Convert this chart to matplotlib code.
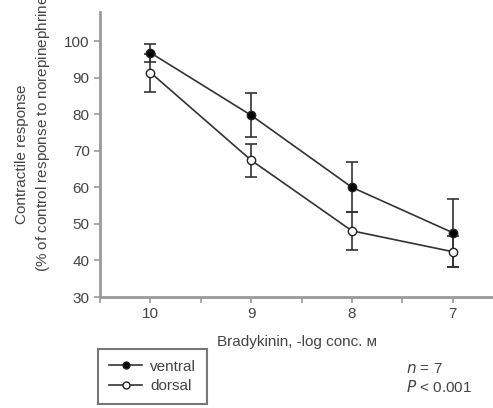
import numpy as np
import matplotlib.pyplot as plt
from matplotlib.ticker import MultipleLocator
from matplotlib.lines import Line2D

plt.rcParams['font.family'] = ['Liberation Sans', 'DejaVu Sans']

# data
conc = [10, 9, 8, 7]
ventral = [96.8, 79.7, 60.0, 47.6]
ventral_err = [2.5, 6.0, 6.8, 9.3]
dorsal = [91.4, 67.4, 48.1, 42.4]
dorsal_err = [5.2, 4.5, 5.2, 4.2]

txt = '#444444'
spine = '#999999'

fig = plt.figure(figsize=(4.93, 4.08), dpi=100)
ax = fig.add_axes([0.203, 0.272, 0.797, 0.699])

ax.errorbar(conc, ventral, yerr=ventral_err, color='#333333', lw=1.2,
            marker='o', ms=6, mfc='black', mec='#222222', capsize=4,
            elinewidth=1.2, capthick=1.2, zorder=3)
ax.errorbar(conc, dorsal, yerr=dorsal_err, color='#333333', lw=1.2,
            marker='o', ms=6, mfc='white', mec='#222222', capsize=4,
            elinewidth=1.2, capthick=1.2, zorder=3)

ax.set_xlim(10.5, 6.6)
ax.set_ylim(30, 108)
ax.set_xticks(conc)
ax.xaxis.set_minor_locator(MultipleLocator(0.5))
ax.set_yticks(np.arange(30, 101, 10))

for s in ['top', 'right']:
    ax.spines[s].set_visible(False)
for s in ['left', 'bottom']:
    ax.spines[s].set_color(spine)
    ax.spines[s].set_linewidth(2)
ax.tick_params(which='both', color=spine, width=1.2, labelcolor=txt, labelsize=11)
ax.tick_params(which='major', length=4)
ax.tick_params(which='minor', length=4)

ax.set_xlabel('Bradykinin, -log conc. \u1d0d', fontsize=11, color=txt, labelpad=10)

fig.text(22 / 493, 1 - 154 / 408, 'Contractile response', rotation=90,
         ha='center', va='center', fontsize=11, color=txt)
fig.text(42 / 493, 1 - 272 / 408,
         '(% of control response to norepinephrine 1 \u00d7 10$^{-6}$ \u1d0d)',
         rotation=90, rotation_mode='anchor', ha='left', va='center',
         fontsize=11, color=txt)

handles = [Line2D([], [], color='#333333', lw=1.2, marker='o', ms=5,
                  mfc='black', mec='#222222'),
           Line2D([], [], color='#333333', lw=1.2, marker='o', ms=5,
                  mfc='white', mec='#222222')]
leg = fig.legend(handles, ['ventral', 'dorsal'], loc='upper left',
                 bbox_to_anchor=(98 / 493, 1 - 349 / 408), borderaxespad=0,
                 fontsize=11, frameon=True, fancybox=False, handlelength=2.2,
                 handletextpad=0.5, borderpad=0.7, labelspacing=0.35)
leg.get_frame().set_edgecolor('#555555')
leg.get_frame().set_linewidth(1.5)
for t in leg.get_texts():
    t.set_color(txt)

fig.text(406 / 493, 1 - 369 / 408, '$n$ = 7', fontsize=11, color=txt,
         va='center')
fig.text(406 / 493, 1 - 387 / 408, '$P$ < 0.001', fontsize=11, color=txt,
         va='center')

plt.savefig('out.png')
